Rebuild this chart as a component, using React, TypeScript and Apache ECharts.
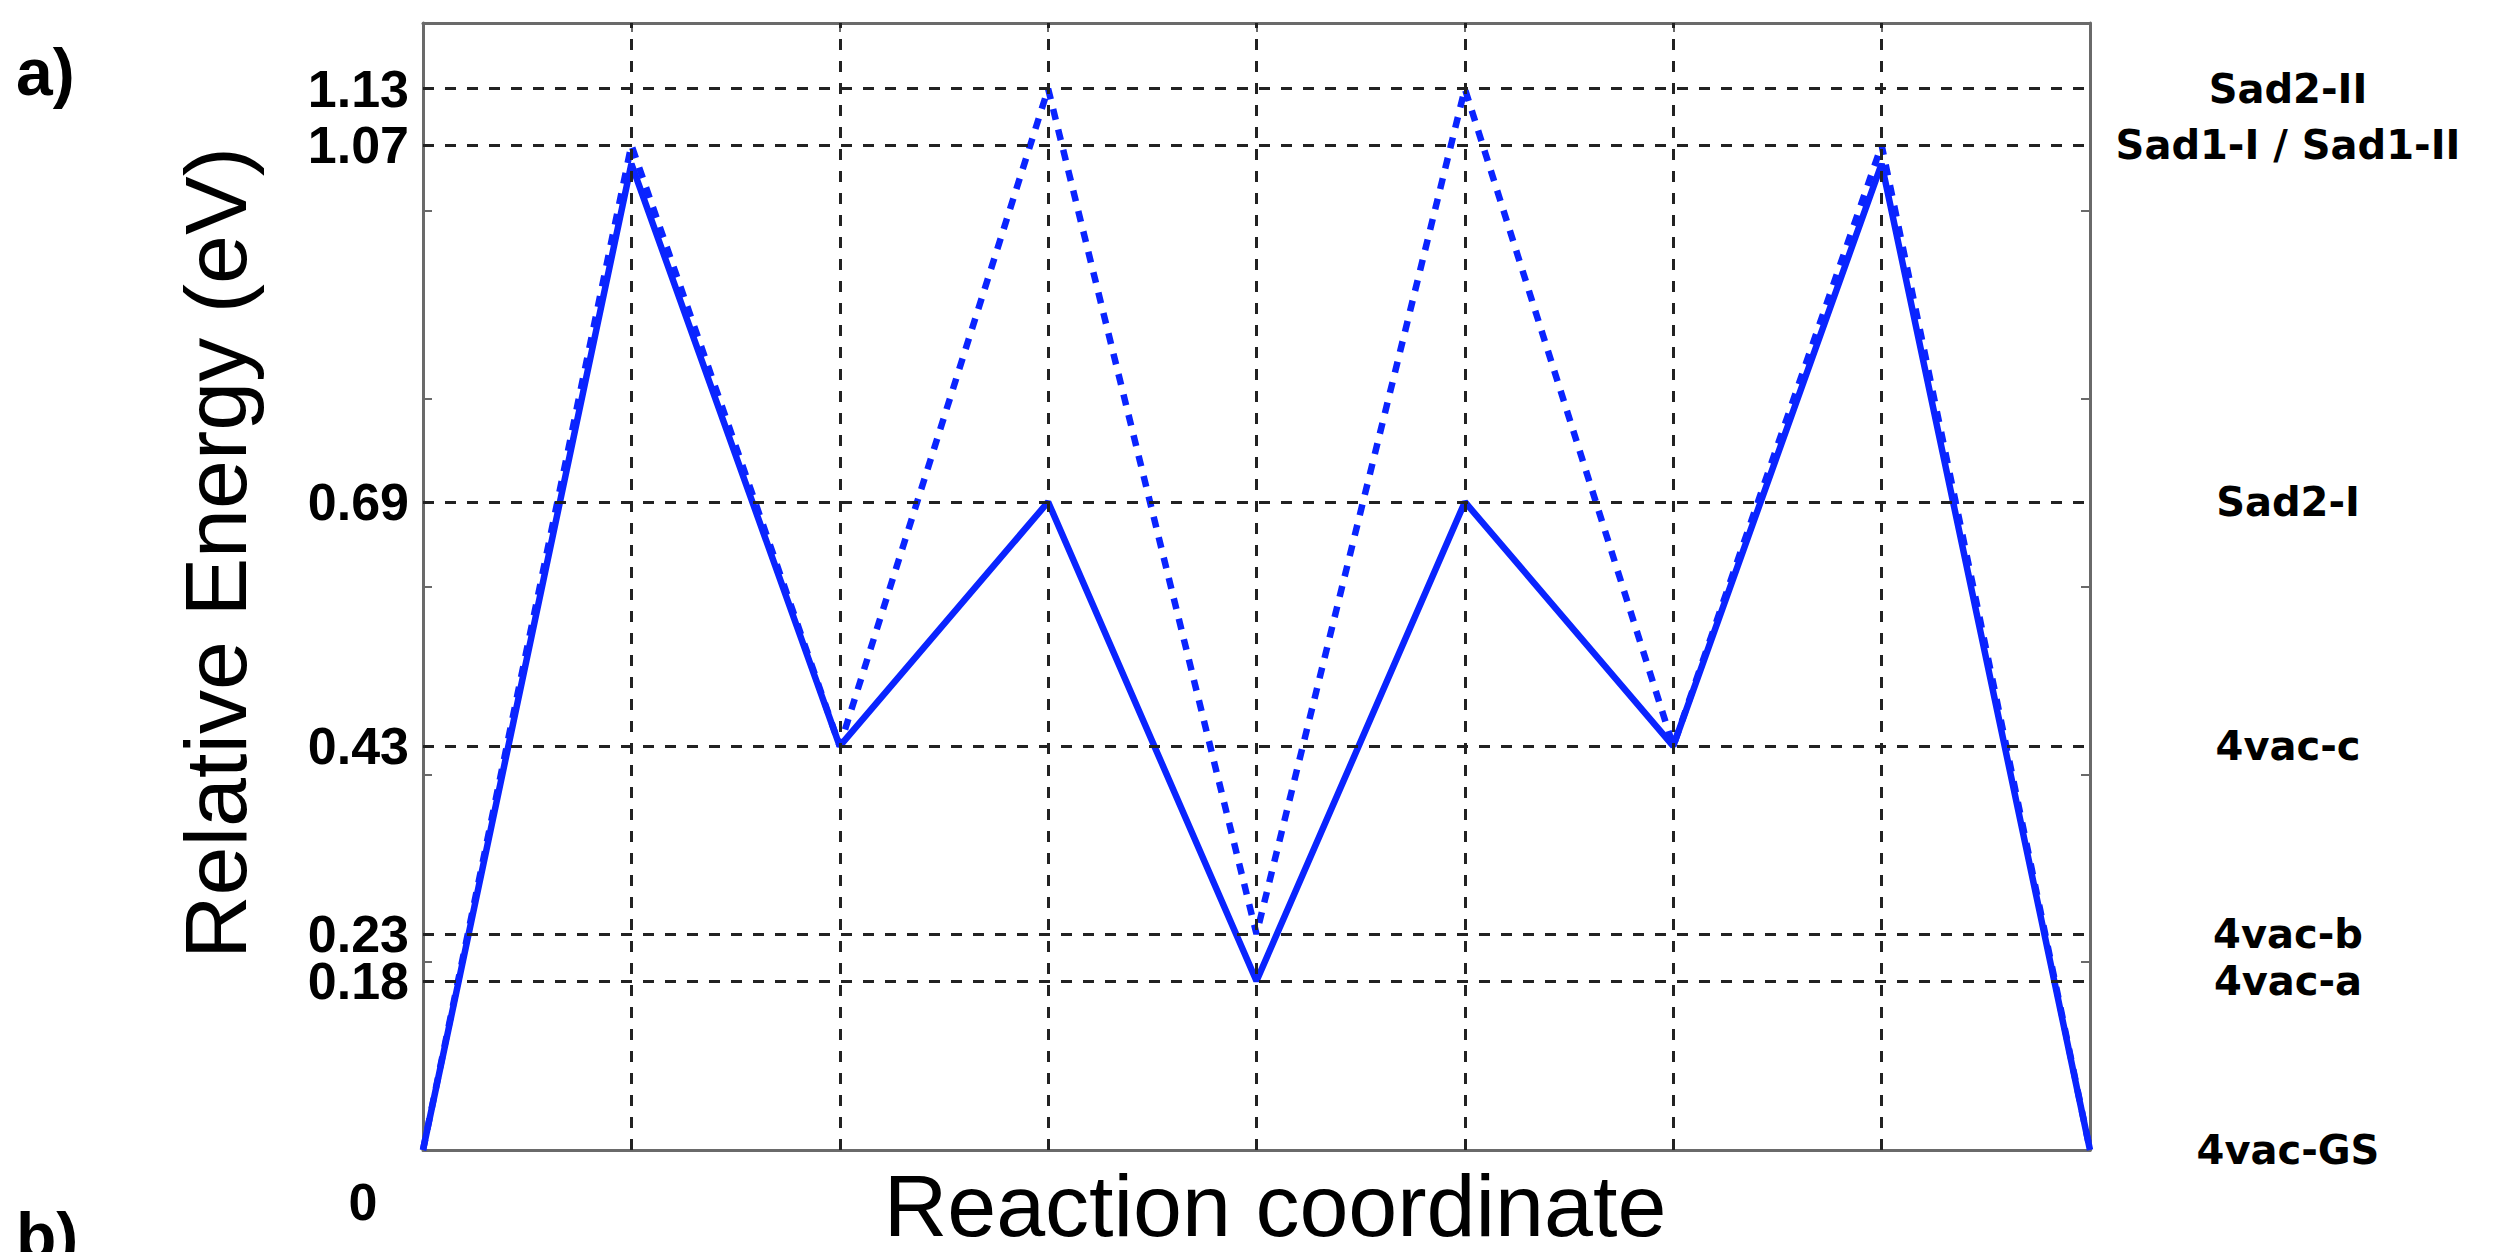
import React, { useEffect, useRef } from "react";
import * as echarts from "echarts";

// Reaction coordinate steps (x) and relative energies (eV)
const stepX = [0, 1, 2, 3, 4, 5, 6, 7, 8];
const pathSolid = [0, 1.05, 0.43, 0.69, 0.18, 0.69, 0.43, 1.05, 0];
const pathDotted = [0, 1.07, 0.43, 1.13, 0.23, 1.13, 0.43, 1.07, 0];

// Energy levels shown as dashed guide lines / left tick labels
const levelValues = [0.18, 0.23, 0.43, 0.69, 1.07, 1.13];
const levelTickLabels = ["0.18", "0.23", "0.43", "0.69", "1.07", "1.13"];

// State names on the right side
const stateValues = [0, 0.18, 0.23, 0.43, 0.69, 1.07, 1.13];
const stateNames = ["4vac-GS", "4vac-a", "4vac-b", "4vac-c", "Sad2-I", "Sad1-I / Sad1-II", "Sad2-II"];

// Vertical guide lines and minor y ticks
const guideX = [1, 2, 3, 4, 5, 6, 7];
const yMinorTicks = [0.2, 0.4, 0.6, 0.8, 1.0];

const BLUE = "#0a24ff";
const FRAME = "#6a6a6a";
const GUIDE = "#222222";

export default function App() {
  const ref = useRef<HTMLDivElement>(null);

  useEffect(() => {
    if (!ref.current) return;
    const chart = echarts.init(ref.current, null, { renderer: "svg" });

    const solidData = stepX.map((x, i) => [x, pathSolid[i]]);
    const dottedData = stepX.map((x, i) => [x, pathDotted[i]]);

    const markData: any[] = [
      ...levelValues.map((v) => ({ yAxis: v })),
      ...guideX.map((v) => ({ xAxis: v })),
    ];

    const frameAxisLine = { show: true, onZero: false, lineStyle: { color: FRAME, width: 3 } };
    const xTick = { show: true, inside: true, length: 9, lineStyle: { color: FRAME, width: 2 } };
    const yTick = {
      show: true,
      inside: true,
      length: 9,
      customValues: yMinorTicks,
      lineStyle: { color: FRAME, width: 2 },
    };
    const levelLabel = (v: number) => {
      const i = levelValues.findIndex((l) => Math.abs(l - v) < 1e-6);
      return i >= 0 ? levelTickLabels[i] : "";
    };
    const leftLabelStyle = {
      show: true,
      hideOverlap: false,
      margin: 14,
      formatter: levelLabel,
      color: "#000",
      fontFamily: "Liberation Sans",
      fontWeight: "bold",
      fontSize: 52,
      lineHeight: 40,
    };

    // Alternate levels go on two overlaid left axes so close labels both stay visible
    const leftLevelsA = levelValues.filter((_, i) => i % 2 === 1);
    const leftLevelsB = levelValues.filter((_, i) => i % 2 === 0);

    const option: any = {
      animation: false,
      backgroundColor: "#ffffff",
      grid: { left: 423, right: 412, top: 23, bottom: 102, containLabel: false },
      xAxis: [
        {
          type: "value",
          min: 0,
          max: 8,
          interval: 1,
          position: "bottom",
          axisLine: frameAxisLine,
          axisTick: xTick,
          axisLabel: { show: false },
          splitLine: { show: false },
        },
        {
          type: "value",
          min: 0,
          max: 8,
          interval: 1,
          position: "top",
          axisLine: frameAxisLine,
          axisTick: xTick,
          axisLabel: { show: false },
          splitLine: { show: false },
        },
      ],
      yAxis: [
        {
          type: "value",
          min: 0,
          max: 1.2,
          position: "left",
          axisLine: frameAxisLine,
          axisTick: yTick,
          axisLabel: { ...leftLabelStyle, customValues: leftLevelsA },
          splitLine: { show: false },
        },
        {
          type: "value",
          min: 0,
          max: 1.2,
          position: "right",
          axisLine: frameAxisLine,
          axisTick: yTick,
          axisLabel: {
            show: true,
            customValues: stateValues,
            hideOverlap: false,
            margin: 198,
            align: "center",
            formatter: (v: number) => {
              const i = stateValues.findIndex((l) => Math.abs(l - v) < 1e-6);
              return i >= 0 ? stateNames[i] : "";
            },
            color: "#000",
            fontFamily: "DejaVu Sans",
            fontWeight: "bold",
            fontSize: 40,
            lineHeight: 40,
          },
          splitLine: { show: false },
        },
        {
          type: "value",
          min: 0,
          max: 1.2,
          position: "left",
          offset: 0,
          axisLine: { show: false, onZero: false },
          axisTick: { show: false },
          axisLabel: { ...leftLabelStyle, customValues: leftLevelsB },
          splitLine: { show: false },
        },
      ],
      series: [
        {
          name: "guides",
          type: "line",
          data: [],
          silent: true,
          markLine: {
            silent: true,
            symbol: ["none", "none"],
            label: { show: false },
            emphasis: { disabled: true },
            lineStyle: { color: GUIDE, type: [11, 11], width: 3 },
            data: markData,
          },
        },
        {
          name: "path I",
          type: "line",
          data: solidData,
          symbol: "none",
          silent: true,
          lineStyle: { color: BLUE, width: 6.5, type: "solid" },
          z: 3,
        },
        {
          name: "path II",
          type: "line",
          data: dottedData,
          symbol: "none",
          silent: true,
          lineStyle: { color: BLUE, width: 6.5, type: [11, 10] },
          z: 4,
        },
      ],
      graphic: [
        {
          type: "text",
          x: 16,
          y: 72,
          style: {
            text: "a)",
            fill: "#000",
            font: 'bold 66px "Liberation Sans"',
            textAlign: "left",
            textVerticalAlign: "middle",
          },
        },
        {
          type: "text",
          x: 16,
          y: 1236,
          style: {
            text: "b)",
            fill: "#000",
            font: 'bold 66px "Liberation Sans"',
            textAlign: "left",
            textVerticalAlign: "middle",
          },
        },
        {
          type: "text",
          x: 363,
          y: 1202,
          style: {
            text: "0",
            fill: "#000",
            font: 'bold 52px "Liberation Sans"',
            textAlign: "center",
            textVerticalAlign: "middle",
          },
        },
        {
          type: "text",
          x: 215,
          y: 553,
          rotation: Math.PI / 2,
          style: {
            text: "Relative Energy (eV)",
            fill: "#000",
            font: '88px "Liberation Sans"',
            textAlign: "center",
            textVerticalAlign: "middle",
          },
        },
        {
          type: "text",
          x: 1275,
          y: 1205,
          style: {
            text: "Reaction coordinate",
            fill: "#000",
            font: '88px "Liberation Sans"',
            lineHeight: 78,
            textAlign: "center",
            textVerticalAlign: "middle",
          },
        },
      ],
    };

    chart.setOption(option);
    return () => chart.dispose();
  }, []);

  return (
    <div
      ref={ref}
      style={{ position: "absolute", left: 0, top: 0, width: 2502, height: 1252 }}
    />
  );
}
